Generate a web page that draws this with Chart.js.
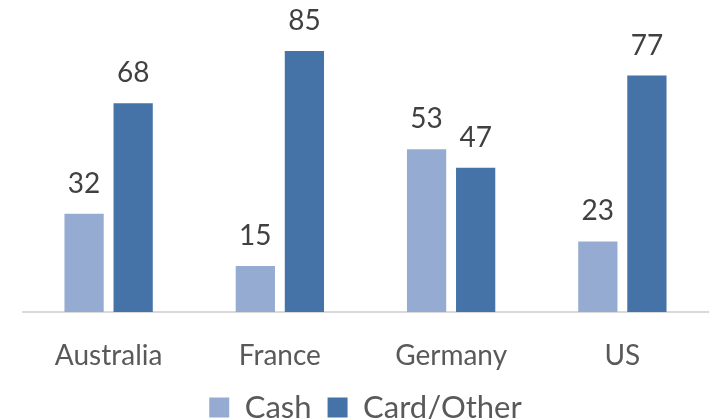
<!DOCTYPE html>
<html>
<head>
<meta charset="utf-8">
<script src="https://cdn.jsdelivr.net/npm/chart.js@4"></script>
<style>
  html, body { margin: 0; padding: 0; background: #fff; }
  #wrap { width: 711px; height: 419px; position: relative; }
</style>
</head>
<body>
<div id="wrap"><canvas id="bar-chart"></canvas></div>
<script>
const countries = ["Australia", "France", "Germany", "US"];
const cashValues = [32, 15, 53, 23];
const cardValues = [68, 85, 47, 77];
const seriesNames = ["Cash", "Card/Other"];

const fontFamily = "Lato, 'Open Sans', sans-serif";
const labelColor = "#404040";
const axisTextColor = "#595959";

// draws the number above each bar
const valueLabels = {
  id: 'valueLabels',
  afterDatasetsDraw(chart) {
    const ctx = chart.ctx;
    ctx.save();
    ctx.font = "28px " + fontFamily;
    ctx.fillStyle = labelColor;
    ctx.textAlign = "center";
    ctx.textBaseline = "alphabetic";
    chart.data.datasets.forEach((ds, i) => {
      chart.getDatasetMeta(i).data.forEach((bar, j) => {
        ctx.fillText(ds.data[j], bar.x, bar.y - 21);
      });
    });
    ctx.restore();
  }
};

new Chart(document.getElementById("bar-chart"), {
  type: 'bar',
  data: {
    labels: countries,
    datasets: [
      { label: seriesNames[0], data: cashValues, backgroundColor: "#96abd2" },
      { label: seriesNames[1], data: cardValues, backgroundColor: "#4573a8" }
    ]
  },
  options: {
    responsive: true,
    maintainAspectRatio: false,
    animation: false,
    categoryPercentage: 0.573,
    barPercentage: 0.8,
    layout: { padding: { left: 23, right: 3, top: 5, bottom: 0 } },
    plugins: {
      legend: {
        position: 'bottom',
        maxHeight: 43,
        labels: {
          font: { size: 31, family: fontFamily },
          color: axisTextColor,
          boxWidth: 20,
          boxHeight: 20,
          padding: 16
        }
      },
      tooltip: { enabled: false }
    },
    scales: {
      x: {
        grid: { display: false, drawTicks: false },
        border: { display: true, color: "#d9d9d9", width: 2 },
        ticks: { font: { size: 28, family: fontFamily }, color: axisTextColor, padding: 27 },
        afterFit: (scale) => { scale.height = 64; }
      },
      y: {
        display: false,
        min: 0,
        max: 100
      }
    }
  },
  plugins: [valueLabels]
});
</script>
</body>
</html>
